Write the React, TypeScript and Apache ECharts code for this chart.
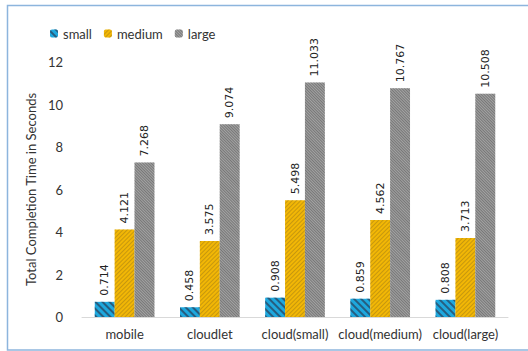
import React, { useEffect, useRef } from "react";
import * as echarts from "echarts";

const categories = ["mobile", "cloudlet", "cloud(small)", "cloud(medium)", "cloud(large)"];
const smallValues = [0.714, 0.458, 0.908, 0.859, 0.808];
const mediumValues = [4.121, 3.575, 5.498, 4.562, 3.713];
const largeValues = [7.268, 9.074, 11.033, 10.767, 10.508];
const yTicks = { min: 0, max: 12, interval: 2 };

const axisFont = "Lato, 'Open Sans', sans-serif";

const valueLabel = {
  show: true,
  position: "top" as const,
  rotate: 90,
  align: "left" as const,
  verticalAlign: "middle" as const,
  distance: 6,
  color: "#222",
  fontSize: 11,
  fontFamily: "'DejaVu Sans', sans-serif",
  formatter: (p: any) => Number(p.value).toFixed(3),
};

export default function App() {
  const ref = useRef<HTMLDivElement>(null);

  useEffect(() => {
    if (!ref.current) return;
    const chart = echarts.init(ref.current, null, { renderer: "svg" });
    chart.setOption({
      animation: false,
      backgroundColor: "#fff",
      aria: { enabled: false },
      graphic: [
        {
          type: "rect",
          shape: { x: 7.5, y: 5.5, width: 700, height: 344.5 },
          style: { fill: "none", stroke: "#8db5dd", lineWidth: 1.5 },
          silent: true,
        },
      ],
      legend: {
        left: 45,
        top: 22,
        itemWidth: 8,
        itemHeight: 8,
        itemGap: 12,
        textStyle: { fontSize: 13, color: "#333", fontFamily: axisFont },
        data: ["small", "medium", "large"],
      },
      grid: { left: 82, right: 20, top: 62, bottom: 34 },
      xAxis: {
        type: "category",
        data: categories,
        axisLine: { lineStyle: { color: "#d9d9d9", width: 1 } },
        axisTick: { show: false },
        axisLabel: { color: "#333", fontSize: 13, fontFamily: axisFont, margin: 10, interval: 0 },
      },
      yAxis: {
        type: "value",
        min: yTicks.min,
        max: yTicks.max,
        interval: yTicks.interval,
        name: "Total Completion Time in Seconds",
        nameLocation: "middle",
        nameGap: 41,
        nameTextStyle: { fontSize: 13, color: "#333", fontFamily: axisFont },
        splitLine: { show: false },
        axisLine: { show: false },
        axisTick: { show: false },
        axisLabel: { color: "#333", fontSize: 13, fontFamily: axisFont, margin: 19 },
      },
      series: [
        {
          name: "small",
          type: "bar",
          data: smallValues,
          barGap: "0%",
          barCategoryGap: "30%",
          itemStyle: {
            color: "#1ea8de",
            decal: {
              symbol: "rect",
              color: "rgba(40,80,110,0.85)",
              dashArrayX: [1, 0],
              dashArrayY: [2, 3],
              rotation: Math.PI / 4,
            },
          },
          label: valueLabel,
        },
        {
          name: "medium",
          type: "bar",
          data: mediumValues,
          itemStyle: {
            color: "#f2b705",
            decal: {
              symbol: "rect",
              color: "rgba(170,130,20,0.6)",
              dashArrayX: [1, 0],
              dashArrayY: [1, 2],
              rotation: -Math.PI / 4,
            },
          },
          label: valueLabel,
        },
        {
          name: "large",
          type: "bar",
          data: largeValues,
          itemStyle: {
            color: "#a3a3a3",
            decal: {
              symbol: "rect",
              color: "rgba(90,90,90,0.6)",
              dashArrayX: [1, 0],
              dashArrayY: [1, 1],
              rotation: Math.PI / 4,
            },
          },
          label: valueLabel,
        },
      ],
    });
    return () => chart.dispose();
  }, []);

  return (
    <div
      ref={ref}
      style={{ position: "fixed", left: 0, top: 0, width: 528, height: 351 }}
    />
  );
}
